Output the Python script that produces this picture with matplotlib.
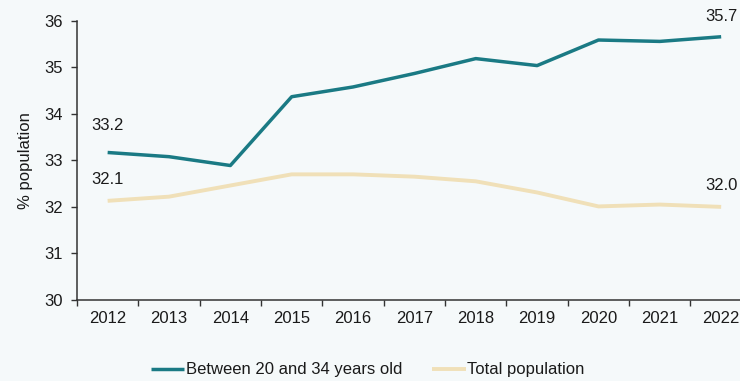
import matplotlib
matplotlib.use("Agg")
import matplotlib.pyplot as plt
import numpy as np

plt.rcParams['font.family'] = ['Liberation Sans', 'DejaVu Sans']

years = ["2012", "2013", "2014", "2015", "2016", "2017", "2018", "2019", "2020", "2021", "2022"]
young_adults = [33.17, 33.08, 32.89, 34.37, 34.58, 34.87, 35.19, 35.04, 35.59, 35.56, 35.66]
total_pop = [32.13, 32.22, 32.46, 32.70, 32.70, 32.65, 32.55, 32.31, 32.01, 32.05, 32.00]
series_names = ["Between 20 and 34 years old", "Total population"]

teal = "#1a7a84"
beige = "#f0e0b8"
bg = "#f5f9fa"
ink = "#1a1a1a"

fig = plt.figure(figsize=(7.4, 3.81), dpi=100, facecolor=bg)
ax = fig.add_axes([0.104, 0.213, 0.912, 0.732], facecolor=bg)

x = np.arange(len(years))
ax.plot(x, young_adults, color=teal, lw=2.5, label=series_names[0], solid_capstyle='butt', zorder=3)
ax.plot(x, total_pop, color=beige, lw=2.8, label=series_names[1], solid_capstyle='butt', zorder=2)

ax.set_xlim(-0.5, len(years) - 0.5)
ax.set_ylim(30, 36)
ax.set_yticks(range(30, 37))
ax.set_xticks(x)
ax.set_xticklabels(years)
ax.set_xticks(np.arange(-0.5, len(years), 1), minor=True)
ax.tick_params(axis='x', which='major', length=0, pad=8, labelsize=12, colors=ink)
ax.tick_params(axis='x', which='minor', length=4, width=1, direction='out', color='#333333')
ax.tick_params(axis='y', length=4, width=1, direction='out', color='#333333', labelsize=12, labelcolor=ink, pad=6)

for side in ('top', 'right'):
    ax.spines[side].set_visible(False)
for side in ('left', 'bottom'):
    ax.spines[side].set_color('#333333')
    ax.spines[side].set_linewidth(1.1)

ax.set_ylabel("% population", fontsize=12, color=ink, labelpad=8)

# value labels at the first and last year
ax.annotate(f"{young_adults[0]:.1f}", (x[0], young_adults[0]), xytext=(0, 14), textcoords='offset points',
            ha='center', va='bottom', fontsize=12, color=ink)
ax.annotate(f"{total_pop[0]:.1f}", (x[0], total_pop[0]), xytext=(0, 10), textcoords='offset points',
            ha='center', va='bottom', fontsize=12, color=ink)
ax.annotate(f"{young_adults[-1]:.1f}", (x[-1], young_adults[-1]), xytext=(0, 9), textcoords='offset points',
            ha='center', va='bottom', fontsize=12, color=ink)
ax.annotate(f"{total_pop[-1]:.1f}", (x[-1], total_pop[-1]), xytext=(0, 10), textcoords='offset points',
            ha='center', va='bottom', fontsize=12, color=ink)

fig.legend(loc='lower center', bbox_to_anchor=(0.497, -0.03), ncol=2, frameon=False, fontsize=12,
           handlelength=2.0, handletextpad=0.1, columnspacing=1.8, labelcolor=ink)

fig.savefig("out.png", dpi=100, facecolor=bg)
